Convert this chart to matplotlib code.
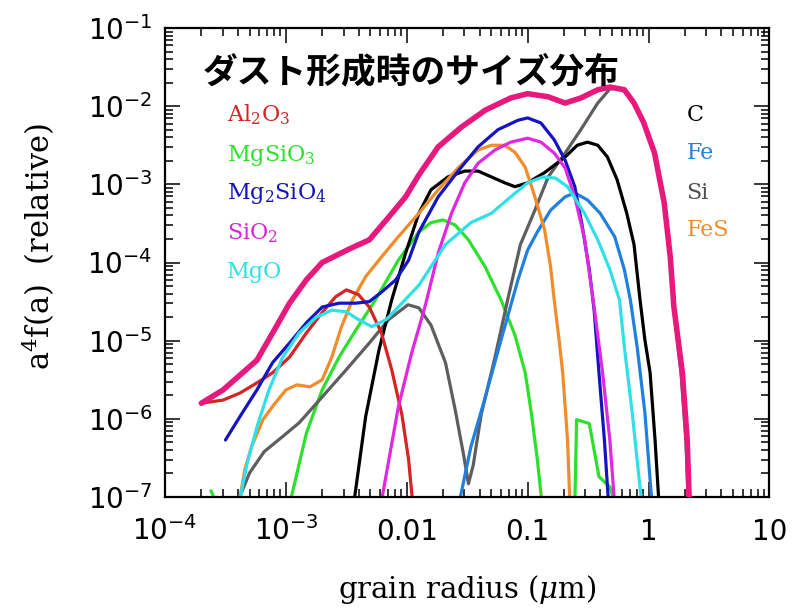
import numpy as np
import matplotlib
matplotlib.use("Agg")
import matplotlib.pyplot as plt
from matplotlib.ticker import LogLocator, FixedLocator, NullFormatter

plt.rcParams["mathtext.fontset"] = "custom"
plt.rcParams["mathtext.rm"] = "DejaVu Serif"
plt.rcParams["mathtext.it"] = "DejaVu Serif:italic"
plt.rcParams["mathtext.sf"] = "DejaVu Sans"

# ---- size distributions: log10(radius / um) and log10(a^4 f(a)) ----
total_loga = [-3.70, -3.52, -3.24, -3.08, -2.97, -2.83, -2.70, -2.48, -2.31, -2.15, -2.01,
              -1.90, -1.74, -1.55, -1.35, -1.14, -1.00, -0.83, -0.69, -0.56, -0.42, -0.32,
              -0.20, -0.12, -0.04, 0.05, 0.13, 0.18, 0.21, 0.28, 0.32, 0.34]
total_logf = [-5.80, -5.63, -5.25, -4.82, -4.52, -4.22, -4.00, -3.83, -3.71, -3.42, -3.16,
              -2.88, -2.52, -2.27, -2.05, -1.895, -1.84, -1.88, -1.96, -1.895, -1.79, -1.755,
              -1.79, -1.96, -2.21, -2.60, -3.24, -3.93, -4.57, -5.41, -6.27, -7.20]

al2o3_loga = [-3.70, -3.52, -3.38, -3.24, -3.11, -2.97, -2.83, -2.70, -2.59, -2.50, -2.40,
              -2.31, -2.21, -2.125, -2.04, -1.985, -1.95]
al2o3_logf = [-5.80, -5.76, -5.67, -5.54, -5.41, -5.21, -4.90, -4.64, -4.44, -4.35, -4.41,
              -4.57, -4.90, -5.37, -5.95, -6.52, -7.10]

mgsio3_loga = [-2.97, -2.83, -2.70, -2.56, -2.42, -2.26, -2.07, -1.90, -1.80, -1.70, -1.60,
               -1.49, -1.35, -1.22, -1.105, -1.02, -0.97, -0.92, -0.88]
mgsio3_logf = [-7.10, -6.18, -5.63, -5.21, -4.86, -4.48, -3.97, -3.61, -3.49, -3.455, -3.52,
               -3.71, -4.06, -4.48, -4.93, -5.41, -5.92, -6.52, -7.10]
mgsio3_bump_loga = [-0.61, -0.595, -0.49, -0.41, -0.32, -0.275]
mgsio3_bump_logf = [-7.10, -6.01, -6.06, -6.74, -6.87, -7.10]
mgsio3_tail_loga = [-3.62, -3.57]
mgsio3_tail_logf = [-6.92, -7.10]

mg2sio4_loga = [-3.50, -3.38, -3.24, -3.11, -2.97, -2.83, -2.70, -2.56, -2.42, -2.31, -2.21,
                -2.09, -1.985, -1.90, -1.74, -1.57, -1.41, -1.245, -1.08, -1.00, -0.89, -0.78,
                -0.69, -0.61, -0.55, -0.49, -0.45, -0.41, -0.365, -0.33]
mg2sio4_logf = [-6.27, -5.97, -5.63, -5.28, -5.03, -4.77, -4.57, -4.52, -4.52, -4.50, -4.38,
                -4.22, -3.97, -3.61, -3.16, -2.82, -2.52, -2.30, -2.18, -2.15, -2.215, -2.43,
                -2.69, -3.03, -3.52, -4.09, -4.61, -5.41, -6.27, -7.10]

sio2_loga = [-2.215, -2.07, -1.96, -1.845, -1.74, -1.63, -1.52, -1.41, -1.27, -1.14, -1.00,
             -0.89, -0.78, -0.69, -0.61, -0.53, -0.45, -0.38, -0.32, -0.28]
sio2_logf = [-7.10, -5.85, -5.16, -4.54, -3.88, -3.37, -2.98, -2.73, -2.56, -2.46, -2.41,
             -2.46, -2.60, -2.79, -3.16, -3.69, -4.57, -5.41, -6.27, -7.10]

mgo_loga = [-3.39, -3.32, -3.235, -3.14, -3.03, -2.89, -2.75, -2.62, -2.50, -2.40, -2.29,
            -2.17, -2.04, -1.90, -1.68, -1.47, -1.30, -1.14, -1.00, -0.875, -0.77, -0.67,
            -0.53, -0.42, -0.32, -0.24, -0.20, -0.135, -0.077, -0.053]
mgo_logf = [-7.10, -6.56, -6.08, -5.63, -5.22, -4.90, -4.70, -4.61, -4.63, -4.73, -4.82,
            -4.73, -4.52, -4.29, -3.77, -3.49, -3.37, -3.16, -2.98, -2.905, -2.92, -3.03,
            -3.37, -3.71, -4.09, -4.48, -5.08, -5.92, -6.78, -7.10]

c_loga = [-2.44, -2.34, -2.23, -2.125, -2.01, -1.90, -1.80, -1.66, -1.52, -1.41, -1.30,
          -1.19, -1.105, -1.00, -0.86, -0.69, -0.59, -0.505, -0.42, -0.34, -0.26, -0.18,
          -0.12, -0.07, -0.03, 0.013, 0.054, 0.087]
c_logf = [-7.10, -5.97, -5.12, -4.48, -3.88, -3.37, -3.07, -2.905, -2.83, -2.83, -2.905,
          -2.98, -3.03, -2.98, -2.85, -2.65, -2.50, -2.46, -2.50, -2.65, -2.94, -3.37,
          -3.77, -4.48, -4.99, -5.41, -6.27, -7.10]

fe_loga = [-1.57, -1.47, -1.35, -1.22, -1.08, -1.00, -0.92, -0.81, -0.69, -0.61, -0.505,
           -0.40, -0.28, -0.20, -0.15, -0.094, -0.03, 0.013, 0.03]
fe_logf = [-7.10, -6.36, -5.72, -4.99, -4.22, -3.84, -3.61, -3.33, -3.16, -3.11, -3.20,
           -3.37, -3.67, -4.09, -4.48, -5.08, -5.92, -6.78, -7.10]

si_loga = [-3.41, -3.30, -3.18, -3.03, -2.89, -2.70, -2.50, -2.31, -2.15, -1.99, -1.90,
           -1.80, -1.68, -1.60, -1.53, -1.49, -1.45, -1.385, -1.27, -1.16, -1.06, -0.94,
           -0.83, -0.69, -0.56, -0.42, -0.32, -0.24, -0.17, -0.10, -0.03, 0.05, 0.13,
           0.18, 0.21, 0.27, 0.31, 0.33]
si_logf = [-7.10, -6.69, -6.42, -6.23, -6.05, -5.72, -5.37, -5.03, -4.73, -4.54, -4.58,
           -4.80, -5.28, -5.88, -6.46, -6.83, -6.59, -5.95, -5.21, -4.44, -3.77, -3.33,
           -2.905, -2.60, -2.30, -1.96, -1.78, -1.77, -1.84, -2.00, -2.25, -2.63, -3.27,
           -3.96, -4.60, -5.44, -6.30, -7.10]

fes_loga = [-3.39, -3.34, -3.285, -3.19, -3.10, -3.00, -2.91, -2.80, -2.70, -2.62, -2.54,
            -2.45, -2.34, -2.21, -2.07, -1.90, -1.74, -1.57, -1.41, -1.30, -1.19, -1.105,
            -1.02, -0.94, -0.86, -0.81, -0.78, -0.74, -0.71, -0.67, -0.65]
fes_logf = [-7.10, -6.65, -6.36, -6.01, -5.82, -5.63, -5.565, -5.59, -5.50, -5.21, -4.82,
            -4.48, -4.18, -3.93, -3.67, -3.37, -3.07, -2.78, -2.56, -2.50, -2.50, -2.59,
            -2.78, -3.16, -3.58, -4.06, -4.48, -4.99, -5.41, -6.27, -7.10]

# species labels (left and right columns) and colours
left_labels = [r"Al$_2$O$_3$", r"MgSiO$_3$", r"Mg$_2$SiO$_4$", r"SiO$_2$", "MgO"]
left_colors = ["#d42424", "#2ee02e", "#1414b4", "#d626d6", "#30e0e4"]
right_labels = ["C", "Fe", "Si", "FeS"]
right_colors = ["#000000", "#2080e0", "#505050", "#f08c2a"]

xtick_vals = [1e-4, 1e-3, 1e-2, 1e-1, 1, 10]
xtick_text = [r"$\mathsf{10^{-4}}$", r"$\mathsf{10^{-3}}$", "0.01", "0.1", "1", "10"]
ytick_vals = [1e-7, 1e-6, 1e-5, 1e-4, 1e-3, 1e-2, 1e-1]
ytick_text = [r"$\mathsf{10^{-%d}}$" % k for k in range(7, 0, -1)]

title = "ダスト形成時のサイズ分布"

fig = plt.figure(figsize=(8.07, 6.13), dpi=100)
ax = fig.add_axes([0.2045, 0.1892, 0.7489, 0.7651])


def draw(la, lf, color, lw=2.3, z=2):
    ax.plot(10 ** np.asarray(la), 10 ** np.asarray(lf), color=color, lw=lw,
            solid_joinstyle="round", solid_capstyle="round", zorder=z)


draw(mgsio3_tail_loga, mgsio3_tail_logf, "#2ee02e")
draw(mgsio3_loga, mgsio3_logf, "#2ee02e")
draw(mgsio3_bump_loga, mgsio3_bump_logf, "#2ee02e")
draw(si_loga, si_logf, "#5e5e5e")
draw(fe_loga, fe_logf, "#2080e0")
draw(c_loga, c_logf, "#000000")
draw(fes_loga, fes_logf, "#f08c2a")
draw(al2o3_loga, al2o3_logf, "#d42424")
draw(mg2sio4_loga, mg2sio4_logf, "#1414c0")
draw(sio2_loga, sio2_logf, "#e028e0")
draw(mgo_loga, mgo_logf, "#30e0e8")
draw(total_loga, total_logf, "#e8197d", lw=4.0, z=3)

ax.set_xscale("log")
ax.set_yscale("log")
ax.set_xlim(1e-4, 10)
ax.set_ylim(1e-7, 1e-1)

ax.xaxis.set_major_locator(FixedLocator(xtick_vals))
ax.set_xticklabels(xtick_text)
ax.yaxis.set_major_locator(FixedLocator(ytick_vals))
ax.set_yticklabels(ytick_text)
ax.xaxis.set_minor_locator(LogLocator(base=10, subs=np.arange(2, 10), numticks=20))
ax.yaxis.set_minor_locator(LogLocator(base=10, subs=np.arange(2, 10), numticks=20))
ax.xaxis.set_minor_formatter(NullFormatter())
ax.yaxis.set_minor_formatter(NullFormatter())

ax.tick_params(which="both", direction="in", top=True, right=True, width=1.1,
               colors="black")
ax.tick_params(which="major", length=11)
ax.tick_params(which="minor", length=5.5)
ax.tick_params(axis="x", which="major", pad=31, labelsize=20)
ax.tick_params(axis="y", which="major", pad=9, labelsize=20)
for lab in ax.get_xticklabels():
    lab.set_family("DejaVu Sans")
    lab.set_verticalalignment("baseline")
for lab in ax.get_yticklabels():
    lab.set_family("DejaVu Sans")
for sp in ax.spines.values():
    sp.set_linewidth(1.6)

ax.set_xlabel(r"grain radius ($\mu$m)", family="DejaVu Serif", fontsize=21)
ax.xaxis.set_label_coords(0.5, -0.163)
ax.set_ylabel(r"a$^4$f(a)  (relative)", family="DejaVu Serif", fontsize=22)
ax.yaxis.set_label_coords(-0.178, 0.535)

ax.text(0.0625, 0.906, title, transform=ax.transAxes, ha="left", va="center",
        family=["Noto Sans CJK JP", "DejaVu Sans"], fontweight="bold", fontsize=25,
        zorder=5)

left_y = [0.8145, 0.729, 0.648, 0.563, 0.480]
for txt, col, yy in zip(left_labels, left_colors, left_y):
    ax.text(0.102, yy, txt, transform=ax.transAxes, ha="left", va="center",
            family="DejaVu Serif", fontsize=16, color=col, zorder=5)

right_y = [0.8145, 0.733, 0.648, 0.569]
for txt, col, yy in zip(right_labels, right_colors, right_y):
    ax.text(0.863, yy, txt, transform=ax.transAxes, ha="left", va="center",
            family="DejaVu Serif", fontsize=16, color=col, zorder=5)

fig.savefig("out.png", dpi=100)
